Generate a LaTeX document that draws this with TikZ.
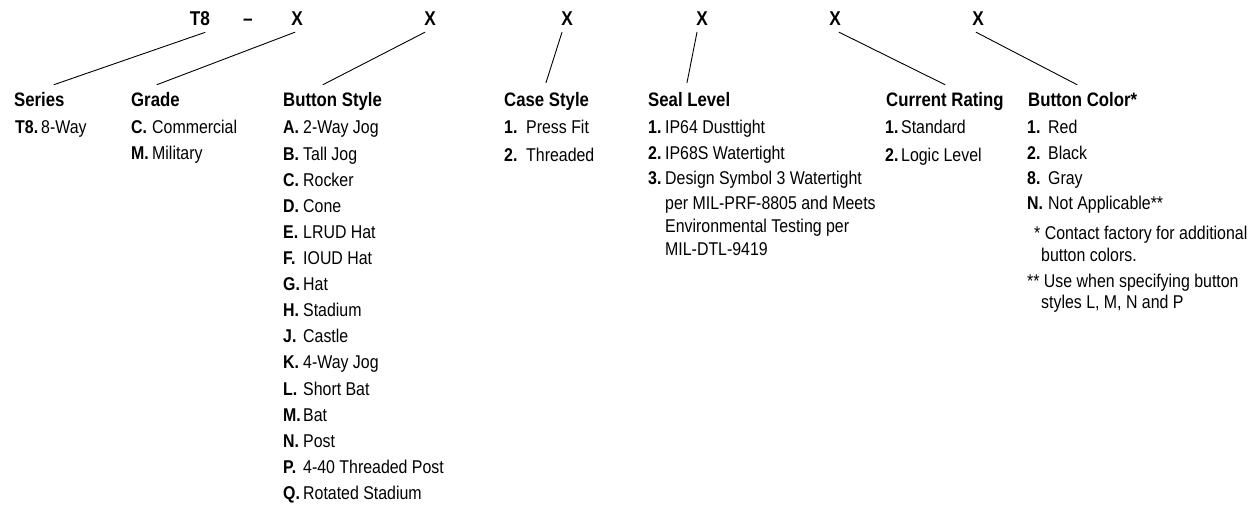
\documentclass[tikz,border=0pt]{standalone}
\usepackage{fontspec}
\setmainfont{Liberation Sans}[FakeStretch=0.86]
\usetikzlibrary{positioning}

\begin{document}
\begin{tikzpicture}[x=1pt,y=-1pt,line cap=round,line join=round,
		font=\fontsize{18.5}{22}\selectfont,
		code/.style={font=\fontsize{20}{22}\selectfont\bfseries,inner sep=0pt,anchor=base},
		head/.style={font=\fontsize{19.5}{22}\selectfont\bfseries,inner sep=0pt,anchor=base west},
		item/.style={inner sep=0pt,anchor=base west},
		tag/.style={item,font=\fontsize{18.5}{22}\selectfont\bfseries},
		link/.style={line width=0.9pt}]
	\useasboundingbox (0,0) rectangle (1259,508);
	% part number
	\node[code] (cT8) at (200,26) {T8};
	\node[code] (cDash) at (248,26) {--};
	\foreach \x/\n in {297/1,430/2,567/3,702/4,835/5,978/6}{
		\node[code] (cX\n) at (\x,26) {X};
	}
	% headings
	\node[head] (hSer) at (14,107) {Series};
	\node[head] (hGra) at (131,107) {Grade};
	\node[head] (hBut) at (283,107) {Button Style};
	\node[head] (hCas) at (504,107) {Case Style};
	\node[head] (hSea) at (648,107) {Seal Level};
	\node[head] (hCur) at (886,107) {Current Rating};
	\node[head] (hCol) at (1028,107) {Button Color*};
	% leader lines
	\draw[link] ([xshift=5pt,yshift=-6pt]cT8.south) -- ([xshift=40pt,yshift=8pt]hSer.north west);
	\draw[link] ([xshift=-2pt,yshift=-6pt]cX1.south) -- ([xshift=26pt,yshift=8pt]hGra.north west);
	\draw[link] ([xshift=-5pt,yshift=-6pt]cX2.south) -- ([xshift=40pt,yshift=8pt]hBut.north west);
	\draw[link] ([xshift=-5pt,yshift=-6pt]cX3.south) -- ([xshift=42pt,yshift=10pt]hCas.north west);
	\draw[link] ([xshift=-5pt,yshift=-6pt]cX4.south) -- ([xshift=39pt,yshift=10pt]hSea.north west);
	\draw[link] ([xshift=4pt,yshift=-6pt]cX5.south) -- ([xshift=59pt,yshift=8pt]hCur.north west);
	\draw[link] ([xshift=-2pt,yshift=-6pt]cX6.south) -- ([xshift=49pt,yshift=8pt]hCol.north west);
	% series
	\node[tag] (sk1) at (15,134) {T8.};
	\node[item] (st1) at (41,134) {8-Way};
	% grade
	\foreach \k/\t/\y [count=\i] in {C/Commercial/134,M/Military/160}{
		\node[tag] (gk\i) at (131,\y) {\k.};
		\node[item] (gt\i) at (152,\y) {\t};
	}
	% button style
	\foreach \k/\t [count=\i from 0] in {A/2-Way Jog,B/Tall Jog,C/Rocker,D/Cone,E/LRUD Hat,F/IOUD Hat,G/Hat,H/Stadium,J/Castle,K/4-Way Jog,L/Short Bat,M/Bat,N/Post,P/4-40 Threaded Post,Q/Rotated Stadium}{
		\node[tag] (bk\i) at (283,{134+26.1*\i}) {\k.};
		\node[item] (bt\i) at (303,{134+26.1*\i}) {\t};
	}
	% case style
	\foreach \k/\t/\y in {1/Press Fit/134,2/Threaded/161}{
		\node[tag] (ck\k) at (504,\y) {\k.};
		\node[item] (ct\k) at (526,\y) {\t};
	}
	% seal level
	\foreach \k/\t/\y in {1/IP64 Dusttight/134,2/IP68S Watertight/160,3/Design Symbol 3 Watertight/185}{
		\node[tag] (ek\k) at (648,\y) {\k.};
		\node[item] (et\k) at (665,\y) {\t};
	}
	\foreach \t/\y [count=\i] in {per MIL-PRF-8805 and Meets/209,Environmental Testing per/232,MIL-DTL-9419/255}{
		\node[item] (ew\i) at (665,\y) {\t};
	}
	% current rating
	\foreach \k/\t/\y in {1/Standard/134,2/Logic Level/161}{
		\node[tag] (rk\k) at (885,\y) {\k.};
		\node[item] (rt\k) at (901,\y) {\t};
	}
	% button color
	\foreach \k/\t/\y in {1/Red/134,2/Black/160,8/Gray/185,N/Not Applicable**/210}{
		\node[tag] (lk\k) at (1027,\y) {\k.};
		\node[item] (lt\k) at (1048,\y) {\t};
	}
	\node[item] (n1) at (1034,240) {* Contact factory for additional};
	\node[item] (n2) at (1041,261) {button colors.};
	\node[item] (n3) at (1027,287) {** Use when specifying button};
	\node[item] (n4) at (1041,308) {styles L, M, N and P};
\end{tikzpicture}
\end{document}
